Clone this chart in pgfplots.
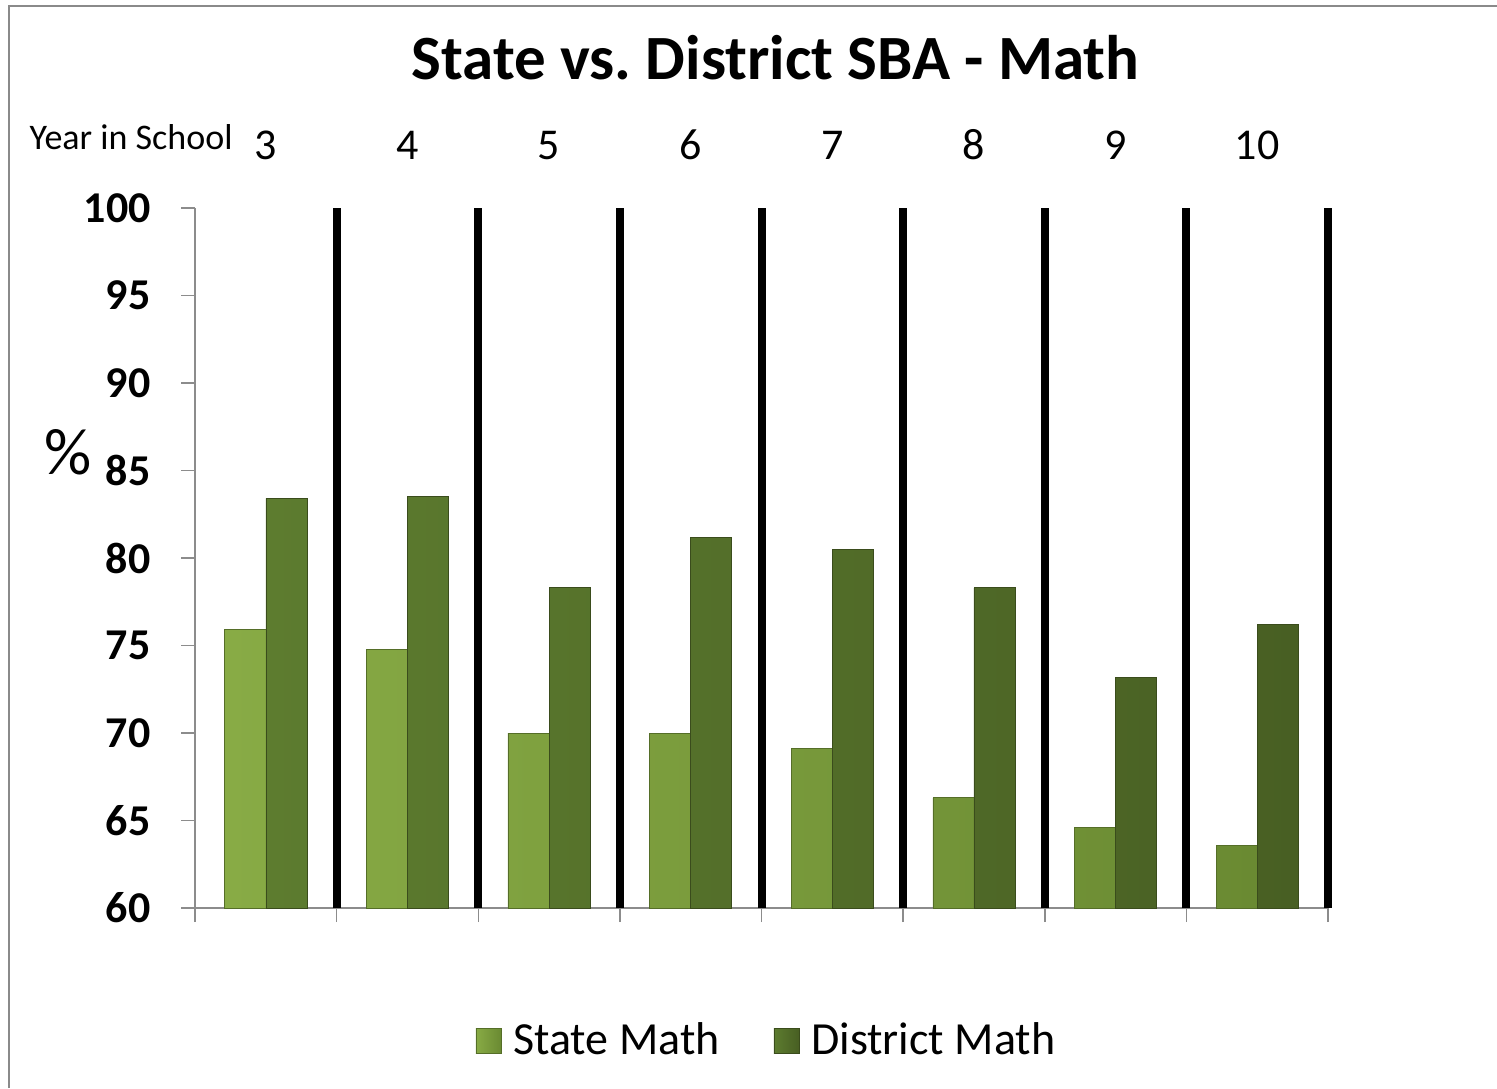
\documentclass[border=0pt]{standalone}
\usepackage{pgfplots}
\pgfplotsset{compat=1.18}
\usepackage{fontspec}
\setmainfont{Carlito}
\frenchspacing
\definecolor{axgray}{HTML}{8C8C8C}
\definecolor{frgray}{HTML}{8A8A8A}
\definecolor{stL}{HTML}{88AB45}
\definecolor{stM}{HTML}{7E9F3D}
\definecolor{stR}{HTML}{6A8A32}
\definecolor{diL}{HTML}{5D7C2F}
\definecolor{diM}{HTML}{56722A}
\definecolor{diR}{HTML}{485F23}
\begin{document}
\begin{tikzpicture}[x=1pt,y=1pt]
\path[use as bounding box] (0,0) rectangle (748.5,544);
\draw[frgray, line width=1pt] (4.5,0) -- (4.5,540.75) -- (748.5,540.75);
\begin{axis}[
  at={(97.5pt,90pt)}, anchor=south west,
  width=566.5pt, height=350pt, scale only axis,
  xmin=0, xmax=8, ymin=60, ymax=100,
  axis x line=bottom, axis y line=left,
  axis line style={draw=axgray, line width=0.75pt, -},
  tick style={draw=axgray, line width=0.75pt},
  tick align=outside, major tick length=7pt,
  xtick={0,...,8}, xticklabels={},
  ytick={60,65,...,100},
  /pgf/number format/assume math mode=true,
  yticklabel style={font=\bfseries\fontsize{22}{26}\selectfont, anchor=east, inner sep=0pt, xshift=-15pt},
  extra x ticks={1,...,8}, extra x tick labels={},
  extra x tick style={major tick length=0pt, grid=major, major grid style={black, line width=4pt}},
  legend style={draw=none, fill=none, at={(0.5053,-0.1886)}, anchor=center,
    font=\fontsize{23}{27}\selectfont,
    /tikz/every odd column/.append style={column sep=4pt},
    /tikz/every even column/.append style={column sep=25pt}},
  legend columns=2,
]
\addplot[ybar, bar width=0.29, bar shift=-0.145, draw=stR!80!black, line width=0.3pt,
  left color=stL, middle color=stM, right color=stR,
  legend image code/.code={\path[draw=stR!80!black, line width=0.3pt, left color=stL, right color=stR] (0pt,-6.5pt) rectangle (12.5pt,6pt);}]
  coordinates {(0.5,75.9) (1.5,74.8) (2.5,70.0) (3.5,70.0) (4.5,69.1) (5.5,66.3) (6.5,64.6) (7.5,63.6)};
\addlegendentry{State Math}
\addplot[ybar, bar width=0.29, bar shift=0.145, draw=diR!80!black, line width=0.3pt,
  left color=diL, middle color=diM, right color=diR,
  legend image code/.code={\path[draw=diR!80!black, line width=0.3pt, left color=diL, right color=diR] (0pt,-6.5pt) rectangle (12.5pt,6pt);}]
  coordinates {(0.5,83.4) (1.5,83.5) (2.5,78.3) (3.5,81.2) (4.5,80.5) (5.5,78.3) (6.5,73.2) (7.5,76.2)};
\addlegendentry{District Math}
\end{axis}
\node[anchor=base, font=\bfseries\fontsize{31.5}{36}\selectfont, inner sep=0pt] at (387.75,504) {State vs. District SBA - Math};
\node[anchor=base east, font=\fontsize{18}{22}\selectfont, inner sep=0pt] at (116.5,469) {Year in School};
\foreach \lab [count=\i from 0] in {3,...,10} {
  \node[anchor=base, font=\fontsize{22}{26}\selectfont, inner sep=0pt] at ({97.5+(\i+0.5)*70.8125},464) {\lab};
}
\node[anchor=base, font=\fontsize{33}{38}\selectfont, inner sep=0pt] at (34,306.5) {\%};
\end{tikzpicture}
\end{document}
